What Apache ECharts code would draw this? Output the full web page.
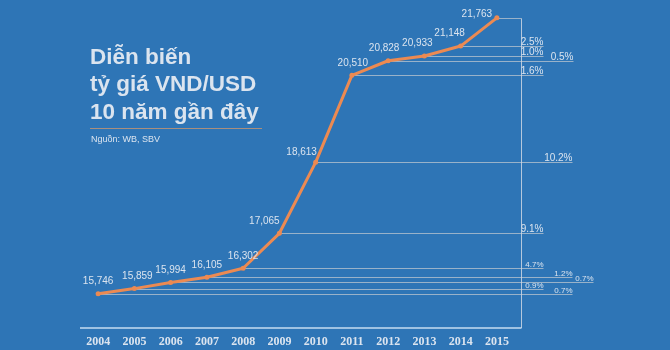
<!DOCTYPE html>
<html>
<head>
<meta charset="utf-8">
<title>Diễn biến tỷ giá VND/USD 10 năm gần đây</title>
<script src="https://cdn.jsdelivr.net/npm/echarts@6/dist/echarts.min.js"></script>
<style>
  html, body { margin: 0; padding: 0; background: #2e75b6; }
  #chart { width: 670px; height: 350px; }
</style>
</head>
<body>
<div id="chart"></div>
<script>
// Yearly VND/USD exchange rate and year-on-year change
const years = ['2004', '2005', '2006', '2007', '2008', '2009', '2010', '2011', '2012', '2013', '2014', '2015'];
const rates = [15746, 15859, 15994, 16105, 16302, 17065, 18613, 20510, 20828, 20933, 21148, 21763];
const changeLabels = ['0.7%', '0.9%', '0.7%', '1.2%', '4.7%', '9.1%', '10.2%', '1.6%', '0.5%', '1.0%', '2.5%', ''];

// Styling: how far each leader line runs past the frame, label sizes, label nudges
const leaderReach = [51, 22, 72, 51, 22, 22, 51, 22, 52, 22, 22, 0];
const changeFontSize = [8, 8, 8, 8, 8, 10, 10, 10, 10, 10, 10, 10];
const valueLabelOffset = [[0, 0], [3, 0], [0, 0], [0, 0], [0, 0], [-15, 0], [-14, 2], [1, 0], [-4, 0], [-7, 0], [-11, 0], [-20, 9]];

const LIGHT = '#dbe4ef';
const ORANGE = '#ec8a52';
const FRAME_GAP = 6;

const chart = echarts.init(document.getElementById('chart'), null, { renderer: 'canvas' });

const fmt = v => v.toLocaleString('en-US');

chart.setOption({
  backgroundColor: '#2e75b6',
  animation: false,
  title: {
    text: 'Diễn biến\ntỷ giá VND/USD\n10 năm gần đây',
    left: 90,
    top: 44,
    padding: 0,
    textStyle: {
      color: LIGHT,
      fontFamily: "'Liberation Sans', Arial, sans-serif",
      fontWeight: 'bold',
      fontSize: 22.5,
      lineHeight: 27.5
    }
  },
  graphic: [
    {
      type: 'line',
      shape: { x1: 90, y1: 128.5, x2: 262, y2: 128.5 },
      style: { stroke: '#a98f7e', lineWidth: 1 }
    },
    {
      type: 'text',
      style: {
        text: 'Nguồn: WB, SBV',
        x: 91, y: 140,
        verticalAlign: 'middle',
        fill: LIGHT,
        fontSize: 9,
        fontFamily: "'Liberation Sans', Arial, sans-serif"
      }
    }
  ],
  grid: { left: 80, right: 155, top: 7, bottom: 22 },
  xAxis: {
    type: 'category',
    data: years,
    boundaryGap: true,
    axisLine: { show: false },
    axisTick: { show: false },
    axisLabel: {
      margin: 8,
      color: LIGHT,
      fontFamily: "'Liberation Serif', 'DejaVu Serif', serif",
      fontWeight: 'bold',
      fontSize: 12
    },
    splitLine: { show: false }
  },
  yAxis: {
    type: 'value',
    min: 15000,
    max: 22000,
    show: false,
    splitLine: { show: false }
  },
  series: [
    {
      type: 'custom',
      z: 1,
      silent: true,
      data: rates.map((v, i) => [i, v]),
      encode: { x: 0, y: 1 },
      renderItem: function (params, api) {
        const i = params.dataIndex;
        const p = api.coord([api.value(0), api.value(1)]);
        const cs = params.coordSys;
        const frameX = Math.round(cs.x + cs.width + FRAME_GAP) + 0.5;
        const bottom = cs.y + cs.height;
        const endX = frameX + leaderReach[i];
        const y = Math.round(p[1]) + 0.5;
        const children = [
          {
            type: 'line',
            shape: { x1: p[0], y1: y, x2: endX, y2: y },
            style: { stroke: 'rgba(200,204,210,0.7)', lineWidth: 1 }
          }
        ];
        if (changeLabels[i]) {
          children.push({
            type: 'text',
            style: {
              text: changeLabels[i],
              x: endX,
              y: y + 0.5,
              align: 'right',
              verticalAlign: 'bottom',
              fill: LIGHT,
              fontSize: changeFontSize[i],
              fontFamily: "'Liberation Sans', Arial, sans-serif"
            }
          });
        }
        if (i === rates.length - 1) {
          // frame: right-hand vertical rule and the baseline
          children.push({
            type: 'line',
            shape: { x1: frameX, y1: y, x2: frameX, y2: bottom },
            style: { stroke: 'rgba(205,215,228,0.85)', lineWidth: 1 }
          });
          children.push({
            type: 'line',
            shape: { x1: cs.x, y1: bottom, x2: frameX, y2: bottom },
            style: { stroke: '#c6dcf1', lineWidth: 1.5 }
          });
        }
        return { type: 'group', children: children };
      }
    },
    {
      type: 'line',
      z: 3,
      data: rates.map((v, i) => ({
        value: v,
        label: { offset: valueLabelOffset[i] }
      })),
      lineStyle: { color: ORANGE, width: 3 },
      itemStyle: { color: ORANGE },
      symbol: 'circle',
      symbolSize: 5,
      label: {
        show: true,
        position: 'top',
        distance: 5,
        color: LIGHT,
        fontSize: 10,
        fontFamily: "'Liberation Sans', Arial, sans-serif",
        formatter: p => fmt(p.value)
      }
    }
  ]
});
</script>
</body>
</html>
